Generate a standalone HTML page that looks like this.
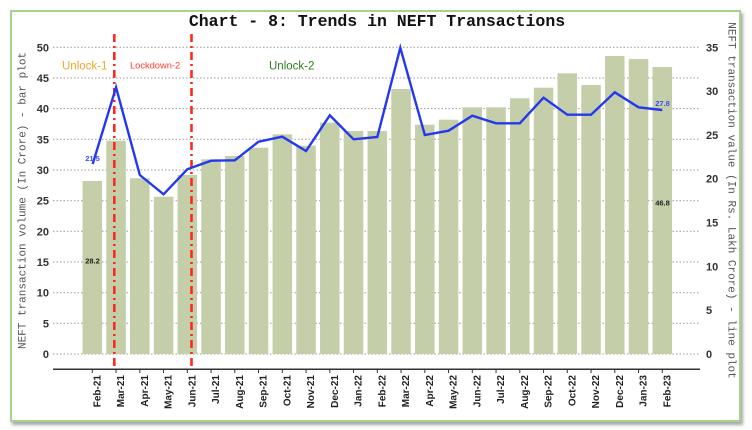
<!DOCTYPE html>
<html><head><meta charset="utf-8"><style>
html,body{margin:0;padding:0;background:#fff;}
body{width:752px;height:430px;position:relative;overflow:hidden;}
.frame{position:absolute;left:10px;top:10px;width:727px;height:408px;border:2.5px solid #a9d18e;box-shadow:2px 3px 3px rgba(0,0,0,0.35);background:#fff;}
svg{position:absolute;left:0;top:0;}
</style></head><body>
<div class="frame"></div>
<svg width="752" height="430" viewBox="0 0 752 430" xmlns="http://www.w3.org/2000/svg">
<text x="377" y="26" text-anchor="middle" font-family="Liberation Mono, monospace" font-weight="bold" font-size="16.5" fill="#111">Chart - 8: Trends in NEFT Transactions</text>
<g stroke="#999" stroke-width="1" stroke-dasharray="1.5,2">
<line x1="53" x2="700" y1="354" y2="354"/><line x1="53" x2="700" y1="323.3" y2="323.3"/><line x1="53" x2="700" y1="292.7" y2="292.7"/><line x1="53" x2="700" y1="262" y2="262"/><line x1="53" x2="700" y1="231.3" y2="231.3"/><line x1="53" x2="700" y1="200.7" y2="200.7"/><line x1="53" x2="700" y1="170" y2="170"/><line x1="53" x2="700" y1="139.3" y2="139.3"/><line x1="53" x2="700" y1="108.6" y2="108.6"/><line x1="53" x2="700" y1="78" y2="78"/><line x1="53" x2="700" y1="47.3" y2="47.3"/>
</g>
<g fill="#c4cea8">
<rect x="82.55" y="181" width="19.5" height="173"/>
<rect x="106.3" y="140.7" width="19.5" height="213.3"/>
<rect x="130.05" y="178.3" width="19.5" height="175.7"/>
<rect x="153.8" y="196.7" width="19.5" height="157.3"/>
<rect x="177.55" y="175" width="19.5" height="179"/>
<rect x="201.3" y="159.3" width="19.5" height="194.7"/>
<rect x="225.05" y="156" width="19.5" height="198"/>
<rect x="248.8" y="147.7" width="19.5" height="206.3"/>
<rect x="272.55" y="134.3" width="19.5" height="219.7"/>
<rect x="296.3" y="145.7" width="19.5" height="208.3"/>
<rect x="320.05" y="122.7" width="19.5" height="231.3"/>
<rect x="343.8" y="131" width="19.5" height="223"/>
<rect x="367.55" y="131" width="19.5" height="223"/>
<rect x="391.3" y="89" width="19.5" height="265"/>
<rect x="415.05" y="124.7" width="19.5" height="229.3"/>
<rect x="438.8" y="119.7" width="19.5" height="234.3"/>
<rect x="462.55" y="107.3" width="19.5" height="246.7"/>
<rect x="486.3" y="107.3" width="19.5" height="246.7"/>
<rect x="510.05" y="98.3" width="19.5" height="255.7"/>
<rect x="533.8" y="87.7" width="19.5" height="266.3"/>
<rect x="557.55" y="73.3" width="19.5" height="280.7"/>
<rect x="581.3" y="85" width="19.5" height="269"/>
<rect x="605.05" y="56" width="19.5" height="298"/>
<rect x="628.8" y="59" width="19.5" height="295"/>
<rect x="652.55" y="67" width="19.5" height="287"/>
</g>
<g stroke="#ff2a1f" stroke-width="2.6" stroke-dasharray="8,4,2,4">
<line x1="114.3" x2="114.3" y1="34" y2="370"/>
<line x1="191.5" x2="191.5" y1="34" y2="370"/>
</g>
<polyline fill="none" stroke="#2438f0" stroke-width="2.4" stroke-linejoin="miter" points="92.7,164 116.05,87.3 139.8,175 163.55,194.3 187.3,169.3 211.05,160.7 234.8,160.3 258.55,141.7 282.3,136.7 306.05,151 329.8,115.3 353.55,139.3 377.3,137 400.3,47.7 424.8,135 448.55,130.7 472.3,115.7 496.05,123.3 519.8,123.3 543.55,97.7 567.3,114.7 591.05,114.7 614.8,92.3 638.55,107.3 662.3,110"/>
<line x1="53" x2="700" y1="369.3" y2="369.3" stroke="#333" stroke-width="1.5"/>
<g stroke="#333" stroke-width="1">
<line x1="92.3" x2="92.3" y1="369" y2="373"/><line x1="116.05" x2="116.05" y1="369" y2="373"/><line x1="139.8" x2="139.8" y1="369" y2="373"/><line x1="163.55" x2="163.55" y1="369" y2="373"/><line x1="187.3" x2="187.3" y1="369" y2="373"/><line x1="211.05" x2="211.05" y1="369" y2="373"/><line x1="234.8" x2="234.8" y1="369" y2="373"/><line x1="258.55" x2="258.55" y1="369" y2="373"/><line x1="282.3" x2="282.3" y1="369" y2="373"/><line x1="306.05" x2="306.05" y1="369" y2="373"/><line x1="329.8" x2="329.8" y1="369" y2="373"/><line x1="353.55" x2="353.55" y1="369" y2="373"/><line x1="377.3" x2="377.3" y1="369" y2="373"/><line x1="401.05" x2="401.05" y1="369" y2="373"/><line x1="424.8" x2="424.8" y1="369" y2="373"/><line x1="448.55" x2="448.55" y1="369" y2="373"/><line x1="472.3" x2="472.3" y1="369" y2="373"/><line x1="496.05" x2="496.05" y1="369" y2="373"/><line x1="519.8" x2="519.8" y1="369" y2="373"/><line x1="543.55" x2="543.55" y1="369" y2="373"/><line x1="567.3" x2="567.3" y1="369" y2="373"/><line x1="591.05" x2="591.05" y1="369" y2="373"/><line x1="614.8" x2="614.8" y1="369" y2="373"/><line x1="638.55" x2="638.55" y1="369" y2="373"/><line x1="662.3" x2="662.3" y1="369" y2="373"/>
</g>
<g font-family="Liberation Sans, sans-serif" font-weight="bold" font-size="10" fill="#222" text-anchor="end">
<text transform="translate(100.3,375) rotate(-90)">Feb-21</text>
<text transform="translate(124.05,375) rotate(-90)">Mar-21</text>
<text transform="translate(147.8,375) rotate(-90)">Apr-21</text>
<text transform="translate(171.55,375) rotate(-90)">May-21</text>
<text transform="translate(195.3,375) rotate(-90)">Jun-21</text>
<text transform="translate(219.05,375) rotate(-90)">Jul-21</text>
<text transform="translate(242.8,375) rotate(-90)">Aug-21</text>
<text transform="translate(266.55,375) rotate(-90)">Sep-21</text>
<text transform="translate(290.3,375) rotate(-90)">Oct-21</text>
<text transform="translate(314.05,375) rotate(-90)">Nov-21</text>
<text transform="translate(337.8,375) rotate(-90)">Dec-21</text>
<text transform="translate(361.55,375) rotate(-90)">Jan-22</text>
<text transform="translate(385.3,375) rotate(-90)">Feb-22</text>
<text transform="translate(409.05,375) rotate(-90)">Mar-22</text>
<text transform="translate(432.8,375) rotate(-90)">Apr-22</text>
<text transform="translate(456.55,375) rotate(-90)">May-22</text>
<text transform="translate(480.3,375) rotate(-90)">Jun-22</text>
<text transform="translate(504.05,375) rotate(-90)">Jul-22</text>
<text transform="translate(527.8,375) rotate(-90)">Aug-22</text>
<text transform="translate(551.55,375) rotate(-90)">Sep-22</text>
<text transform="translate(575.3,375) rotate(-90)">Oct-22</text>
<text transform="translate(599.05,375) rotate(-90)">Nov-22</text>
<text transform="translate(622.8,375) rotate(-90)">Dec-22</text>
<text transform="translate(646.55,375) rotate(-90)">Jan-23</text>
<text transform="translate(670.3,375) rotate(-90)">Feb-23</text>
</g>
<g font-family="Liberation Sans, sans-serif" font-weight="bold" font-size="11" fill="#333" text-anchor="end">
<text x="49" y="358">0</text><text x="49" y="327.3">5</text><text x="49" y="296.7">10</text><text x="49" y="266">15</text><text x="49" y="235.3">20</text><text x="49" y="204.7">25</text><text x="49" y="174">30</text><text x="49" y="143.3">35</text><text x="49" y="112.6">40</text><text x="49" y="82">45</text><text x="49" y="51.3">50</text>
</g>
<g font-family="Liberation Sans, sans-serif" font-weight="bold" font-size="11" fill="#333">
<text x="706" y="358">0</text><text x="706" y="314.2">5</text><text x="706" y="270.4">10</text><text x="706" y="226.6">15</text><text x="706" y="182.7">20</text><text x="706" y="138.9">25</text><text x="706" y="95.1">30</text><text x="706" y="51.3">35</text>
</g>
<text transform="translate(25.5,200.5) rotate(-90)" text-anchor="middle" font-family="Liberation Mono, monospace" font-size="11" fill="#555">NEFT transaction volume (In Crore) - bar plot</text>
<text transform="translate(728.5,200.5) rotate(90)" text-anchor="middle" font-family="Liberation Mono, monospace" font-size="11" fill="#555">NEFT transaction value (In Rs. Lakh Crore) - line plot</text>
<text x="62" y="69.5" font-family="Liberation Sans, sans-serif" font-size="11.5" fill="#f5a623">Unlock-1</text>
<text x="130" y="68.5" font-family="Liberation Sans, sans-serif" font-size="9.3" fill="#ff3b30">Lockdown-2</text>
<text x="269" y="69.5" font-family="Liberation Sans, sans-serif" font-size="11.5" fill="#2e7d1f">Unlock-2</text>
<g font-family="Liberation Sans, sans-serif" font-weight="bold" font-size="7.5" text-anchor="middle">
<text x="92.5" y="160.8" fill="#3a4ff0">21.5</text>
<text x="92.5" y="263.5" fill="#222">28.2</text>
<text x="662.5" y="105.8" fill="#3a4ff0">27.8</text>
<text x="662.5" y="205.5" fill="#222">46.8</text>
</g>
</svg>
</body></html>
